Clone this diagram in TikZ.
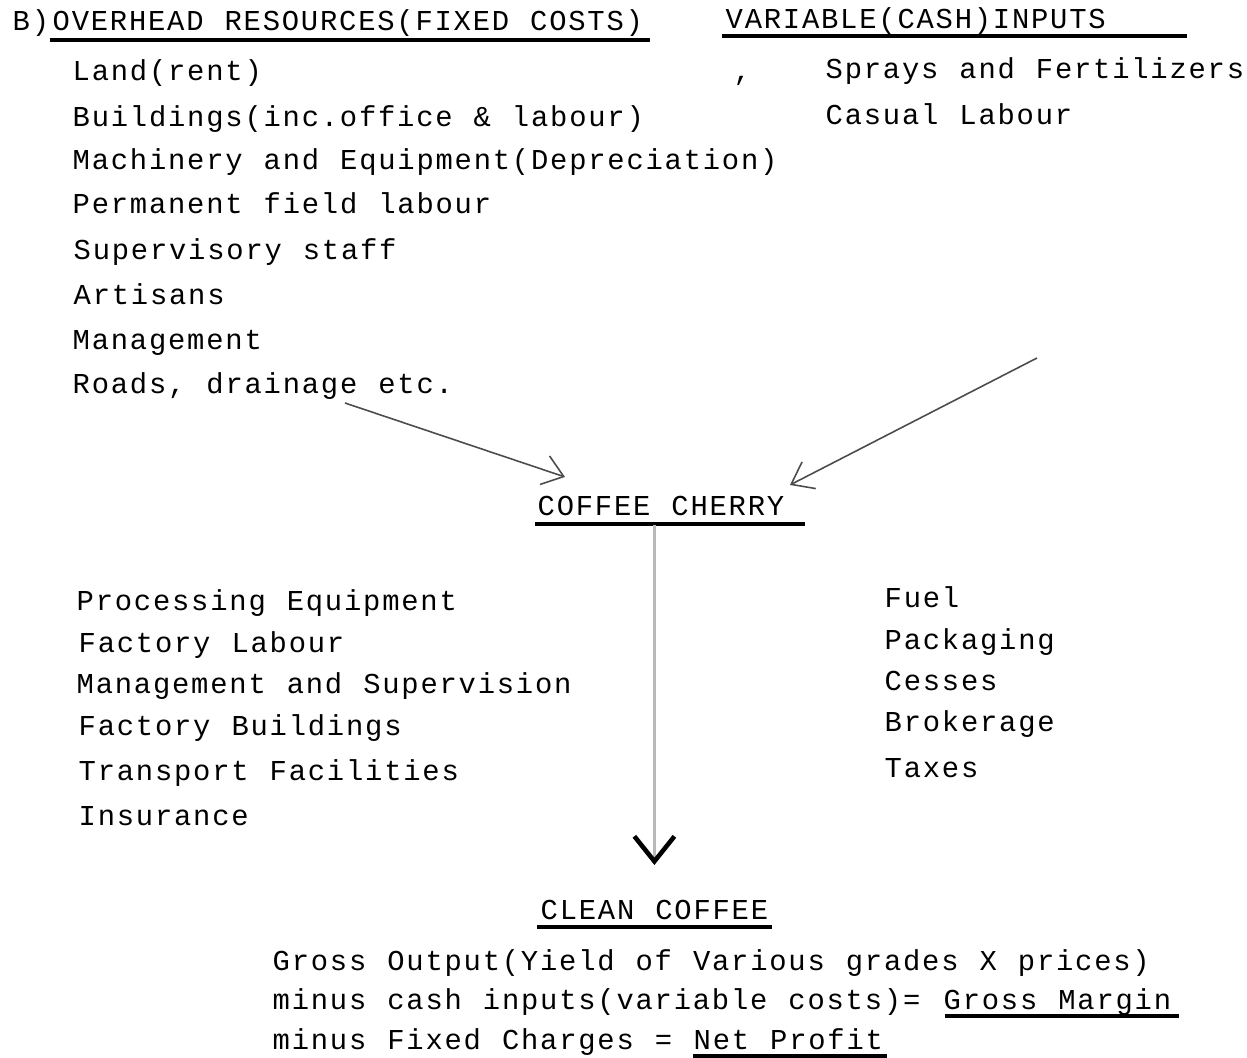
\documentclass[tikz,border=0pt]{standalone}
\usepackage{fontspec}
\newfontfamily\typed[LetterSpace=6.2,WordSpace=1.1]{Liberation Mono}
\usetikzlibrary{arrows.meta}

\tikzset{
	txt/.style={anchor=base west, inner sep=0pt, font=\typed\fontsize{8.2}{11}\selectfont},
	uline/.style={line width=0.9pt},
	feed/.style={black!70, line width=0.45pt, -{Straight Barb[length=2mm,width=3mm]}},
	down/.style={gray!55, line width=1pt, -{Straight Barb[length=2.5mm,width=4mm,color=black,line width=1.3pt]}},
}

\begin{document}
\begin{tikzpicture}[x=0.01cm, y=-0.01cm]
	\useasboundingbox (0,0) rectangle (1247,1058);
	
	% headings
	\node[txt] (b) at (12,31) {B)};
	\node[txt] (fixhead) at (52,31) {OVERHEAD RESOURCES(FIXED COSTS)};
	\draw[uline] ([xshift=-0.02cm,yshift=-0.09cm]fixhead.base west) -- ([xshift=0.06cm,yshift=-0.09cm]fixhead.base east);
	\node[txt] (varhead) at (725,29) {VARIABLE(CASH)INPUTS};
	\draw[uline] ([xshift=-0.03cm,yshift=-0.07cm]varhead.base west) -- ([xshift=0.8cm,yshift=-0.07cm]varhead.base east);
	
	% overheads
	\node[txt] (land) at (72,81) {Land(rent)};
	\node[txt] (bldg) at (72,127) {Buildings(inc.office \& labour)};
	\node[txt] (mach) at (72,170) {Machinery and Equipment(Depreciation)};
	\node[txt] (perm) at (72,214) {Permanent field labour};
	\node[txt] (sup) at (73,260) {Supervisory staff};
	\node[txt] (art) at (73,305) {Artisans};
	\node[txt] (mgmt) at (72,350) {Management};
	\node[txt] (roads) at (72,394) {Roads, drainage etc.};
	
	% cash inputs
	\node[txt] (comma) at (733,81) {,};
	\node[txt] (spray) at (825,79) {Sprays and Fertilizers};
	\node[txt] (casual) at (825,125) {Casual Labour};
	
	% cherry
	\node[txt] (cherry) at (537,516) {COFFEE CHERRY};
	\draw[uline] ([xshift=-0.02cm,yshift=-0.08cm]cherry.base west) -- ([xshift=0.2cm,yshift=-0.08cm]cherry.base east);
	\coordinate (rdtail) at (345,403);
	\coordinate (vartail) at (1037,358);
	\draw[feed] (rdtail) -- ([xshift=0.28cm,yshift=0.19cm]cherry.north west);
	\draw[feed] (vartail) -- ([xshift=0.05cm,yshift=0.11cm]cherry.north east);
	
	% factory overheads
	\node[txt] (proc) at (76,611) {Processing Equipment};
	\node[txt] (flab) at (78,653) {Factory Labour};
	\node[txt] (msup) at (76,694) {Management and Supervision};
	\node[txt] (fbld) at (78,736) {Factory Buildings};
	\node[txt] (trans) at (78,781) {Transport Facilities};
	\node[txt] (ins) at (78,826) {Insurance};
	
	% factory cash costs
	\node[txt] (fuel) at (884,608) {Fuel};
	\node[txt] (pack) at (884,650) {Packaging};
	\node[txt] (cess) at (884,691) {Cesses};
	\node[txt] (brok) at (884,732) {Brokerage};
	\node[txt] (tax) at (884,778) {Taxes};
	
	% clean coffee
	\node[txt] (clean) at (540,920) {CLEAN COFFEE};
	\draw[uline] ([xshift=-0.03cm,yshift=-0.07cm]clean.base west) -- ([xshift=0.03cm,yshift=-0.07cm]clean.base east);
	\draw[down, shorten <=0.08cm, shorten >=0.35cm] (clean.north |- cherry.south) -- (clean.north);
	
	% margins
	\node[txt] (gross) at (272,971) {Gross Output(Yield of Various grades X prices)};
	\node[txt] (minus1) at (272,1010) {minus cash inputs(variable costs)=};
	\node[txt] (margin) at (943,1010) {Gross Margin};
	\draw[uline] ([xshift=0.02cm,yshift=-0.06cm]margin.base west) -- ([xshift=0.07cm,yshift=-0.06cm]margin.base east);
	\node[txt] (minus2) at (272,1050) {minus Fixed Charges =};
	\node[txt] (profit) at (693,1050) {Net Profit};
	\draw[uline] ([xshift=0.0cm,yshift=-0.06cm]profit.base west) -- ([xshift=0.03cm,yshift=-0.06cm]profit.base east);
	
\end{tikzpicture}
\end{document}
